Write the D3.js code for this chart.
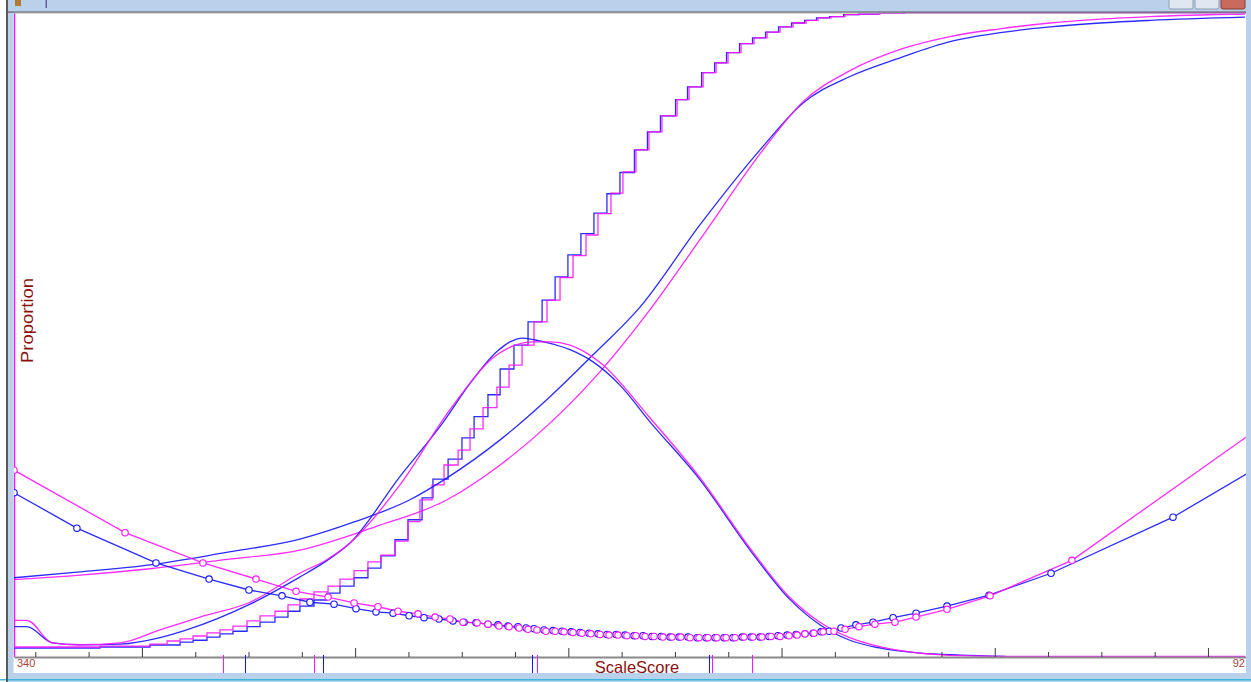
<!DOCTYPE html>
<html><head><meta charset="utf-8">
<script src="https://cdn.jsdelivr.net/npm/d3@7"></script>
<style>body{margin:0;background:#fff;overflow:hidden}svg{display:block}</style>
</head><body><svg id="c" width="1251" height="682"></svg>
<script>
// ---------------- data (ScaleScore on x, Proportion on y) ----------------
const xDomain = [340, 920];
const tickValues = [350,375,400,425,450,475,500,525,550,575,600,625,650,675,700,725,750,775,800,825,850,875,900];
const majorTicks = [400,500,600,700,800,900];
const endLabels = ["340", "92"];

// step (cumulative) curves
const stepBlueX = [340,380.3,403.8,417.9,424.0,430.5,436.6,442.7,449.3,455.4,462.4,468.5,474.1,480.7,486.8,492.9,499.5,506.0,512.1,518.7,524.8,531.4,536.5,543.6,550.1,555.8,562.3,568.0,574.5,581.1,587.7,593.8,599.8,605.9,612.0,618.1,624.2,631.0,637.1,643.2,650.3,655.9,662.5,668.6,674.2,680.3,686.4,692.5,698.6,704.7,710.8,716.4,722.5,729.1,736.1,745.5,757.2,773.6];
const stepBlueY = [0.014,0.0155,0.0186,0.023,0.026,0.031,0.036,0.040,0.047,0.054,0.062,0.071,0.079,0.0885,0.099,0.110,0.123,0.138,0.157,0.182,0.213,0.247,0.276,0.307,0.340,0.373,0.407,0.447,0.484,0.520,0.554,0.590,0.624,0.657,0.689,0.719,0.752,0.787,0.815,0.840,0.865,0.885,0.907,0.922,0.938,0.952,0.961,0.970,0.978,0.984,0.988,0.992,0.994,0.997,0.998,0.999,1.0,1.0];
const stepMagX = [340,380.3,403.8,411.8,417.9,424.0,430.5,436.6,442.7,449.3,455.4,462.4,468.5,474.1,480.7,487.3,492.9,499.5,506.0,512.1,518.7,524.8,530.4,536.1,541.7,548.3,553.9,560.0,566.5,572.2,578.3,583.9,590.0,596.1,602.2,608.3,613.9,620.0,625.6,631.7,637.8,643.9,651.0,656.6,663.2,669.3,674.9,681.0,687.1,693.2,699.3,705.4,711.5,717.1,723.2,729.8,736.8,746.2,757.9];
const stepMagY = [0.0155,0.017,0.020,0.0248,0.028,0.0326,0.0373,0.042,0.048,0.056,0.0637,0.071,0.081,0.090,0.101,0.110,0.121,0.134,0.1475,0.158,0.180,0.210,0.244,0.267,0.298,0.321,0.354,0.387,0.419,0.453,0.484,0.520,0.554,0.589,0.623,0.655,0.688,0.720,0.753,0.787,0.815,0.840,0.865,0.885,0.907,0.922,0.938,0.952,0.961,0.970,0.978,0.984,0.988,0.992,0.994,0.997,0.998,0.999,1.0];

// smooth S curves
const sBlueX = [340,371.0,403.8,439.0,474.1,499.9,525.7,543.1,568.0,591.4,611.6,633.6,661.8,689.9,710.1,732.1,755.6,779.0,802.5,825.9,849.4,872.8,917.4];
const sBlueY = [0.123,0.132,0.143,0.162,0.183,0.210,0.244,0.278,0.337,0.404,0.469,0.543,0.671,0.787,0.860,0.901,0.930,0.955,0.969,0.978,0.984,0.988,0.993];
const sMagX = [340,371.0,403.8,439.0,474.1,509.3,543.1,568.0,591.4,614.9,638.3,661.8,691.3,710.1,732.1,755.6,779.0,802.5,825.9,849.4,872.8,917.4];
const sMagY = [0.120,0.127,0.137,0.151,0.166,0.202,0.244,0.298,0.363,0.443,0.539,0.648,0.787,0.862,0.910,0.943,0.963,0.975,0.984,0.990,0.994,0.998];

// bell curves
const bellBlueX = [340,346,358,371,390,408.5,421,450.7,474,486,497.6,521,541,554,566.5,572.6,578.3,584.4,590,600.8,611.6,624.2,638.3,661.8,685.2,704,718,732,746,765,784,805];
const bellBlueY = [0.047,0.047,0.022,0.019,0.020,0.030,0.042,0.082,0.124,0.148,0.177,0.280,0.363,0.425,0.474,0.489,0.495,0.492,0.488,0.477,0.458,0.422,0.365,0.275,0.166,0.089,0.050,0.026,0.014,0.006,0.003,0.001];
const bellMagX = [340,346,358,371,390,408.5,427.3,450.7,474,486.7,497.6,521,544.5,566.5,575,583.4,591.4,600.8,614.9,638.3,661.8,685.2,704,718,732,746,765,784,805,917.4];
const bellMagY = [0.057,0.057,0.022,0.019,0.022,0.042,0.062,0.085,0.130,0.151,0.177,0.267,0.384,0.469,0.484,0.489,0.489,0.484,0.457,0.371,0.278,0.169,0.092,0.054,0.030,0.016,0.006,0.002,0.001,0.001];

// marker curves
const mkBlueX = [340,369.5,406.6,431.5,450.2,465.7,478.8,490.1,500.4,509.8,517.8,525.3,532.3,539.3,545.9,551.1,556.7,562.3,567.0,571.7,576.4,580.2,583.9,588.6,592.8,597.0,601.3,605.5,609.7,613.9,618.1,622.4,626.6,630.8,635.0,639.2,643.5,647.7,651.9,656.1,660.4,664.6,668.8,673.0,677.2,681.5,685.7,689.9,694.1,698.3,702.6,706.8,711.0,714.8,718.5,722.3,727.9,734.9,742.9,752.3,763.1,777.6,797.3,826.4,883.6,957];
const mkBlueY = [0.255,0.200,0.146,0.121,0.104,0.095,0.085,0.082,0.075,0.070,0.068,0.064,0.061,0.059,0.056,0.054,0.053,0.051,0.050,0.048,0.047,0.045,0.044,0.042,0.041,0.040,0.039,0.038,0.037,0.036,0.035,0.035,0.034,0.033,0.033,0.032,0.032,0.031,0.031,0.031,0.030,0.030,0.030,0.030,0.030,0.031,0.031,0.031,0.032,0.033,0.034,0.035,0.036,0.037,0.039,0.040,0.045,0.050,0.054,0.061,0.068,0.079,0.096,0.130,0.217,0.360];
const mkMagX = [340,392.1,428.6,453.5,472.3,487.3,499.5,510.7,520.1,529.5,537.5,544.5,550.6,557.2,562.3,567.5,572.2,576.9,581.1,585.3,589.5,593.8,598.0,602.2,606.4,610.6,614.9,619.1,623.3,627.5,631.7,636.0,640.2,644.4,648.6,652.8,657.1,661.3,665.5,669.7,674.0,678.2,682.4,686.6,690.8,695.1,699.3,703.5,707.3,711.0,715.2,719.5,724.6,729.8,736.3,743.8,753.2,763.1,777.6,797.8,836.2,943];
const mkMagY = [0.290,0.193,0.146,0.121,0.102,0.093,0.084,0.078,0.071,0.067,0.062,0.059,0.054,0.053,0.051,0.048,0.047,0.045,0.043,0.042,0.040,0.040,0.039,0.038,0.037,0.036,0.035,0.034,0.034,0.033,0.033,0.032,0.032,0.031,0.031,0.031,0.030,0.030,0.030,0.030,0.030,0.030,0.031,0.031,0.031,0.032,0.032,0.033,0.034,0.036,0.037,0.039,0.040,0.043,0.047,0.051,0.054,0.062,0.074,0.095,0.150,0.400];

// score marks under the axis
const markBlue = [448.3,484.9,583.0,666.1];
const markMag = [438.0,480.7,585.3,667.3,686.0];

const BLUE = "#1414ff", MAG = "#ff14ff";

// ---------------- drawing ----------------
const svg = d3.select("#c");
const x = d3.scaleLinear().domain(xDomain).range([14, 1250.6]);
const y = d3.scaleLinear().domain([0, 1]).range([657, 12.7]);
const zip = (a, b) => a.map((v, i) => [v, b[i]]);

svg.append("rect").attr("width", 1251).attr("height", 682).attr("fill", "#ffffff");

const defs = svg.append("defs");
defs.append("clipPath").attr("id", "plot").append("rect")
  .attr("x", 14).attr("y", 12).attr("width", 1232).attr("height", 646);

// left magenta vertical
svg.append("line").attr("x1", 14.5).attr("x2", 14.5).attr("y1", 13).attr("y2", 657)
  .attr("stroke", MAG).attr("stroke-width", 1.5);

const g = svg.append("g").attr("clip-path", "url(#plot)");
const lin = d3.line().x(d => x(d[0])).y(d => y(d[1]));
const smooth = d3.line().x(d => x(d[0])).y(d => y(d[1])).curve(d3.curveMonotoneX);
const step = d3.line().x(d => x(d[0])).y(d => y(d[1])).curve(d3.curveStepAfter);

function path(gen, data, color) {
  g.append("path").datum(data).attr("d", gen).attr("fill", "none")
    .attr("stroke", color).attr("stroke-width", 1.3).attr("stroke-opacity", 0.9);
}

// axis
const axis = d3.axisTop(x).tickValues(tickValues).tickSize(5).tickFormat("").tickSizeOuter(0);
const ax = svg.append("g").attr("transform", "translate(0,657)").call(axis);
ax.select(".domain").attr("stroke", "#8a8a8a").attr("stroke-width", 2);
ax.selectAll(".tick line").attr("stroke", "#3a3a3a")
  .attr("y2", d => majorTicks.includes(d) ? -9 : -5);

path(step, zip(stepBlueX, stepBlueY).concat([[xDomain[1], 1.0]]), BLUE);
path(step, zip(stepMagX, stepMagY).concat([[xDomain[1], 1.0]]), MAG);
path(smooth, zip(sBlueX, sBlueY), BLUE);
path(smooth, zip(sMagX, sMagY), MAG);
path(smooth, zip(bellBlueX, bellBlueY), BLUE);
path(smooth, zip(bellMagX, bellMagY), MAG);
path(lin, zip(mkBlueX, mkBlueY), BLUE);
path(lin, zip(mkMagX, mkMagY), MAG);

function markers(xs, ys, color) {
  g.append("g").selectAll("circle").data(zip(xs, ys)).join("circle")
    .attr("cx", d => x(d[0])).attr("cy", d => y(d[1])).attr("r", 3.2)
    .attr("fill", "#fff").attr("stroke", color).attr("stroke-width", 1.1);
}
markers(mkBlueX, mkBlueY, BLUE);
markers(mkMagX, mkMagY, MAG);

// marks under axis
svg.append("g").selectAll("line").data(markBlue).join("line")
  .attr("x1", d => Math.round(x(d)) + 0.5).attr("x2", d => Math.round(x(d)) + 0.5)
  .attr("y1", 655).attr("y2", 673).attr("stroke", BLUE).attr("stroke-width", 1);
svg.append("g").selectAll("line").data(markMag).join("line")
  .attr("x1", d => Math.round(x(d)) + 0.5).attr("x2", d => Math.round(x(d)) + 0.5)
  .attr("y1", 655).attr("y2", 673).attr("stroke", MAG).attr("stroke-width", 1);

// texts
const FONT = "'Liberation Sans', Arial, sans-serif";
svg.append("text").attr("x", x(xDomain[0]) + 3).attr("y", 667).text(endLabels[0])
  .attr("font-family", FONT).attr("font-size", 11).attr("fill", "#a8443c");
svg.append("text").attr("x", 1245).attr("y", 667).attr("text-anchor", "end").text(endLabels[1])
  .attr("font-family", FONT).attr("font-size", 11).attr("fill", "#a8443c");
svg.append("text").attr("x", 637).attr("y", 673).attr("text-anchor", "middle")
  .text("ScaleScore").attr("font-family", FONT).attr("font-size", 16.5).attr("fill", "#8b1010");
svg.append("text").attr("transform", "translate(33,320.5) rotate(-90)").attr("text-anchor", "middle")
  .text("Proportion").attr("font-family", FONT).attr("font-size", 16.5).attr("fill", "#8b1010")
  .attr("textLength", 85).attr("lengthAdjust", "spacingAndGlyphs");

// ---------------- window chrome ----------------
const chrome = "#b9d1ea";
svg.append("rect").attr("x", 7).attr("y", 0).attr("width", 1244).attr("height", 12).attr("fill", chrome);
svg.append("rect").attr("x", 8).attr("y", 0).attr("width", 5.5).attr("height", 682).attr("fill", chrome);
svg.append("rect").attr("x", 1246).attr("y", 0).attr("width", 5).attr("height", 682).attr("fill", chrome);
svg.append("rect").attr("x", 7).attr("y", 673).attr("width", 1244).attr("height", 9).attr("fill", chrome);
svg.append("rect").attr("x", 0).attr("y", 679).attr("width", 1251).attr("height", 1.5).attr("fill", "#38b8e0");
svg.append("rect").attr("x", 6).attr("y", 0).attr("width", 2).attr("height", 682).attr("fill", "#5a5a5a");
svg.append("rect").attr("x", 7).attr("y", 11.5).attr("width", 1239).attr("height", 1.2).attr("fill", "#5a5a5a");
svg.append("rect").attr("x", 13.5).attr("y", 12.7).attr("width", 1232).attr("height", 0.8).attr("fill", "#b0b0b0");
// title bar buttons
[[1169, "#dfe7f0", "#8d9cb0"], [1195, "#dfe7f0", "#8d9cb0"], [1221, "#c86a5e", "#8a3a30"]].forEach(b => {
  svg.append("rect").attr("x", b[0]).attr("y", -6).attr("width", 24).attr("height", 15).attr("rx", 2)
    .attr("fill", b[1]).attr("stroke", b[2]).attr("stroke-width", 1);
});
svg.append("rect").attr("x", 15).attr("y", 0).attr("width", 6).attr("height", 6).attr("fill", "#b07a30");
svg.append("rect").attr("x", 45.5).attr("y", 0).attr("width", 1.5).attr("height", 8).attr("fill", "#6a5a9a");
</script></body></html>
